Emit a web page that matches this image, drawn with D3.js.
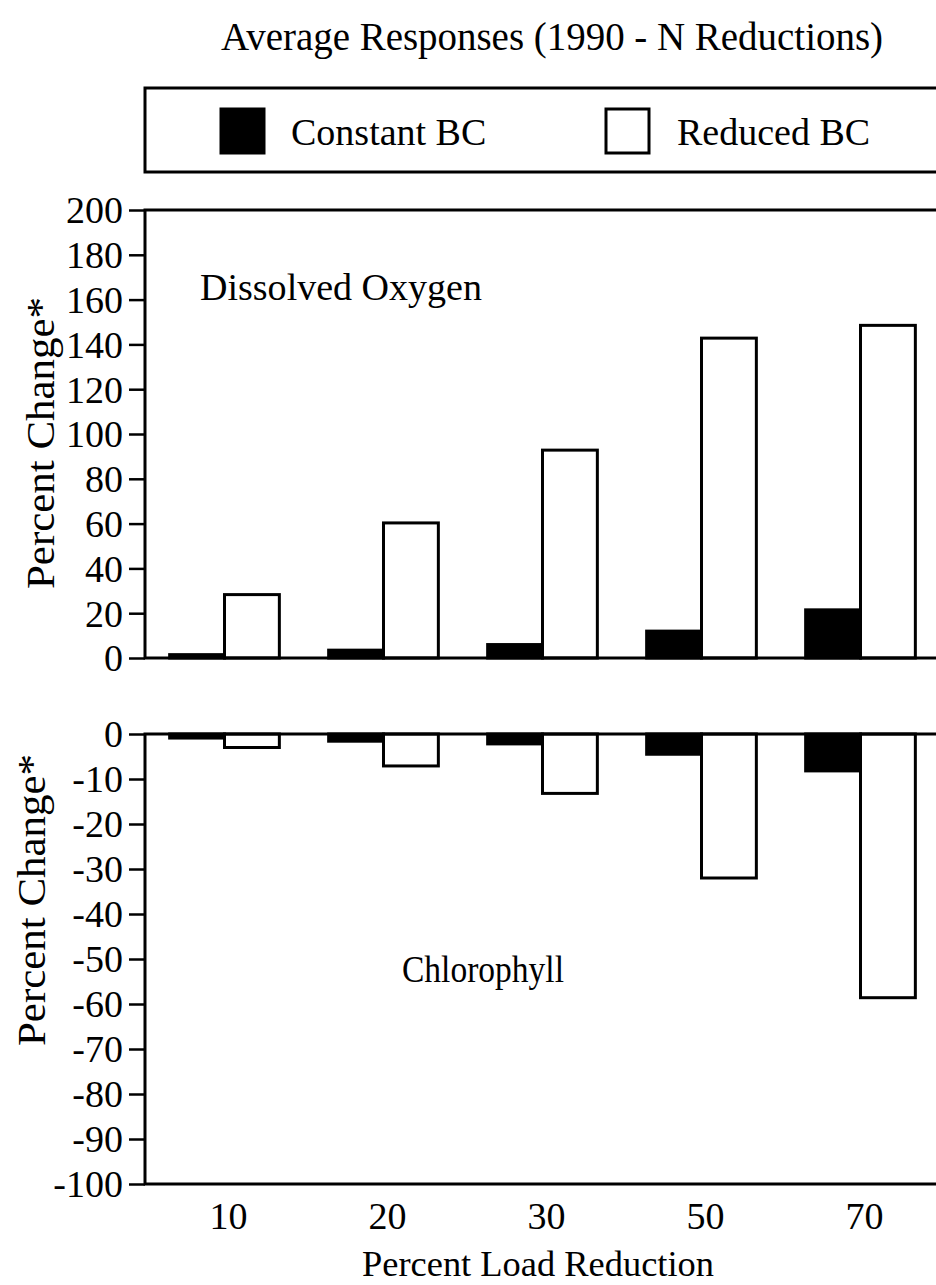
<!DOCTYPE html>
<html>
<head>
<meta charset="utf-8">
<script src="https://cdn.jsdelivr.net/npm/d3@7"></script>
<style>
  html, body { margin: 0; padding: 0; background: #fff; }
  svg { display: block; }
  text { font-family: "Liberation Serif", "Times New Roman", serif; fill: #000; }
</style>
</head>
<body>
<svg id="chart" width="936" height="1285"></svg>
<script>
// ---- data ----
const categories = ["10", "20", "30", "50", "70"];
const seriesNames = ["Constant BC", "Reduced BC"];
const oxygenConstant = [1.5, 3.5, 6, 12, 21.5];
const oxygenReduced = [28.3, 60.3, 92.8, 142.8, 148.5];
const chlorConstant = [-0.9, -1.6, -2.2, -4.5, -8.2];
const chlorReduced = [-3, -7.1, -13.2, -32, -58.6];
const topTicks = [0, 20, 40, 60, 80, 100, 120, 140, 160, 180, 200];
const bottomTicks = [0, -10, -20, -30, -40, -50, -60, -70, -80, -90, -100];

const svg = d3.select("#chart");
const FONT = 38;
const left = 145, right = 940;
const fills = { "Constant BC": "#000", "Reduced BC": "#fff" };

const x0 = d3.scaleBand().domain(categories).range([left, right])
  .paddingInner(0.31).paddingOuter(0.155);
const x1 = d3.scaleBand().domain(seriesNames).range([0, x0.bandwidth()]);

// title
svg.append("text").attr("x", 552).attr("y", 50).attr("text-anchor", "middle")
  .attr("font-size", 40).attr("textLength", 662).attr("lengthAdjust", "spacingAndGlyphs")
  .text("Average Responses (1990 - N Reductions)");

// legend
svg.append("rect").attr("x", 145).attr("y", 88).attr("width", 830).attr("height", 84)
  .attr("fill", "none").attr("stroke", "#000").attr("stroke-width", 3);
const legendPos = [{x: 221, tx: 291}, {x: 606, tx: 677}];
seriesNames.forEach((s, i) => {
  svg.append("rect").attr("x", legendPos[i].x).attr("y", 109).attr("width", 43).attr("height", 44)
    .attr("fill", fills[s]).attr("stroke", "#000").attr("stroke-width", 3);
  svg.append("text").attr("x", legendPos[i].tx).attr("y", 145).attr("font-size", FONT).text(s);
});

function panel(yDomain, yRange, consts, reds, ticks, label, labelPos, labelLen, yLabelPos) {
  const y = d3.scaleLinear().domain(yDomain).range(yRange);
  const g = svg.append("g");
  const data = categories.map((c, i) => ({ c, vals: [
    { s: seriesNames[0], v: consts[i] }, { s: seriesNames[1], v: reds[i] } ] }));
  const grp = g.selectAll("g.grp").data(data).join("g")
    .attr("transform", d => `translate(${x0(d.c)},0)`);
  grp.selectAll("rect").data(d => d.vals).join("rect")
    .attr("x", d => x1(d.s))
    .attr("width", x1.bandwidth())
    .attr("y", d => Math.min(y(0), y(d.v)))
    .attr("height", d => Math.abs(y(d.v) - y(0)))
    .attr("fill", d => fills[d.s])
    .attr("stroke", "#000").attr("stroke-width", 3);

  // frame
  const [ylo, yhi] = [Math.min(...yRange), Math.max(...yRange)];
  g.append("rect").attr("x", left).attr("y", ylo).attr("width", right - left + 20)
    .attr("height", yhi - ylo).attr("fill", "none").attr("stroke", "#000").attr("stroke-width", 3);

  const ax = g.append("g").attr("transform", `translate(${left},0)`)
    .call(d3.axisLeft(y).tickValues(ticks).tickSize(16).tickPadding(6)
      .tickFormat(d => String(d)));
  ax.select(".domain").remove();
  ax.selectAll(".tick line").attr("stroke", "#000").attr("stroke-width", 2.5);
  ax.selectAll(".tick text").attr("font-size", FONT)
    .attr("font-family", '"Liberation Serif", "Times New Roman", serif')
    .attr("dy", "0.34em");

  svg.append("text").attr("transform", `translate(${yLabelPos[0]},${yLabelPos[1]}) rotate(-90)`)
    .attr("text-anchor", "middle").attr("font-size", 40)
    .attr("textLength", 292).attr("lengthAdjust", "spacingAndGlyphs").text("Percent Change*");
  svg.append("text").attr("x", labelPos[0]).attr("y", labelPos[1])
    .attr("font-size", FONT).attr("textLength", labelLen).attr("lengthAdjust", "spacingAndGlyphs")
    .text(label);
}

panel([0, 200], [658, 210], oxygenConstant, oxygenReduced, topTicks,
  "Dissolved Oxygen", [200, 300], 282, [54, 443]);
panel([-100, 0], [1184, 734], chlorConstant, chlorReduced, bottomTicks,
  "Chlorophyll", [402, 982], 162, [45, 900]);

// x axis labels
const xa = svg.append("g").attr("transform", `translate(4,1184)`)
  .call(d3.axisBottom(x0).tickSize(0).tickPadding(18));
xa.select(".domain").remove();
xa.selectAll(".tick text").attr("font-size", FONT)
  .attr("font-family", '"Liberation Serif", "Times New Roman", serif');

svg.append("text").attr("x", 538).attr("y", 1276).attr("text-anchor", "middle")
  .attr("font-size", 36).attr("textLength", 352).attr("lengthAdjust", "spacingAndGlyphs")
  .text("Percent Load Reduction");
</script>
</body>
</html>
